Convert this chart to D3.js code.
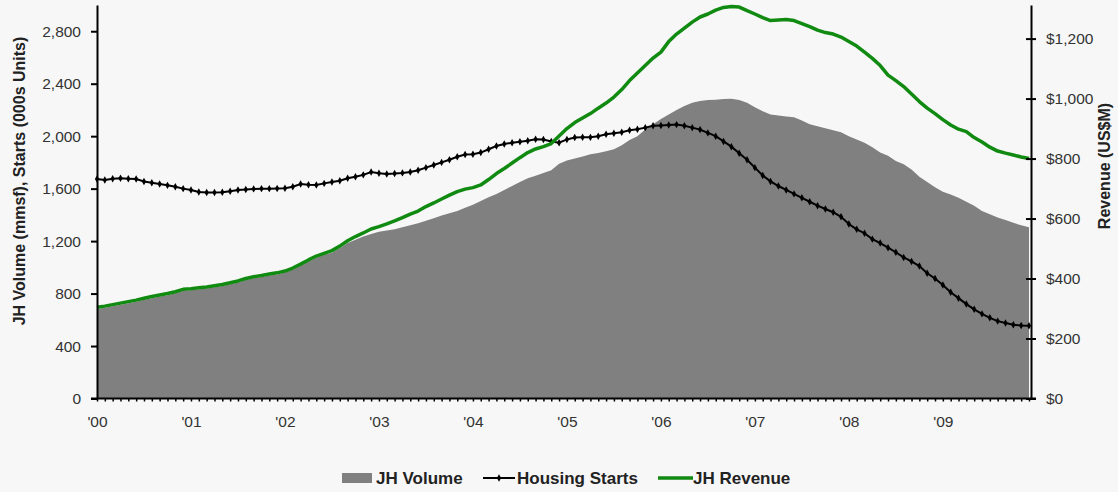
<!DOCTYPE html>
<meta charset="utf-8">
<title>JH Volume, Housing Starts and JH Revenue</title>
<style>
    body { margin: 0; background: #f7f7f7; }
    text { font-family: Arial, "Liberation Sans", sans-serif; fill: #333; }
    .axis path, .axis line { stroke: #000; }
    .axis text { font-size: 15.5px; fill: #333; }
    .title { font-size: 16px; font-weight: bold; fill: #222; }
    .legend text { font-size: 17px; font-weight: bold; fill: #222; }
</style>
<body>
<script src="https://d3js.org/d3.v7.min.js"></script>
<script>
    // year tick labels, one per January
    const years = ["'00", "'01", "'02", "'03", "'04", "'05", "'06", "'07", "'08", "'09"];

    // monthly categories 2000-01 .. 2009-12
    const months = [];
    years.forEach((y, i) => {
        for (let m = 1; m <= 12; m++) months.push((2000 + i) + '-' + m);
    });

    // JH Volume (mmsf), left axis
    const jhVolume = [
        683, 692, 704, 715, 727, 738, 752, 765, 777, 788, 802, 820,
        825, 832, 839, 848, 857, 871, 884, 903, 916, 926, 937, 946,
        960, 983, 1012, 1044, 1074, 1095, 1112, 1145, 1185, 1210, 1235, 1255,
        1272, 1280, 1290, 1305, 1320, 1336, 1355, 1375, 1395, 1412, 1430, 1455,
        1478, 1505, 1535, 1560, 1590, 1620, 1650, 1680, 1698, 1720, 1740, 1790,
        1815, 1830, 1845, 1862, 1872, 1885, 1900, 1930, 1970, 2000, 2050, 2090,
        2130, 2165, 2200, 2230, 2255, 2268, 2276, 2278, 2283, 2286, 2275, 2255,
        2220, 2190, 2165, 2158, 2150, 2145, 2120, 2090, 2075, 2060, 2045, 2030,
        2000, 1975, 1950, 1915, 1875, 1850, 1810, 1785, 1745, 1690, 1650, 1610,
        1577, 1555, 1530, 1500, 1470, 1430, 1405, 1380, 1360, 1340, 1320, 1305
    ];

    // Housing starts (000s units), left axis
    const housingStarts = [
        1673, 1666, 1675, 1679, 1676, 1673, 1655, 1645, 1636, 1625, 1615, 1600,
        1590, 1575, 1570, 1570, 1572, 1580, 1590, 1594, 1598, 1600, 1600, 1601,
        1603, 1615, 1635, 1630, 1628, 1640, 1650, 1660, 1679, 1690, 1705, 1727,
        1718, 1712, 1715, 1720, 1727, 1740, 1760, 1780, 1800, 1820, 1843, 1860,
        1862, 1875, 1900, 1925, 1940, 1950, 1958, 1965, 1976, 1975, 1960, 1950,
        1975, 1990, 1992, 1991, 2000, 2015, 2022, 2030, 2045, 2052, 2065, 2080,
        2082, 2085, 2088, 2080, 2065, 2050, 2025, 2000, 1960, 1920, 1870, 1820,
        1760, 1700, 1655, 1620, 1590, 1560, 1530, 1500, 1470, 1445, 1420, 1385,
        1330, 1290, 1260, 1215, 1185, 1150, 1115, 1075, 1045, 1010, 955, 915,
        865, 810, 765, 720, 680, 645, 615, 590, 575, 562, 557, 555
    ];

    // JH Revenue (US$M), right axis
    const jhRevenue = [
        304, 308, 313, 318, 323, 328, 334, 340, 345, 350, 356, 364,
        366, 369, 372, 376, 380, 386, 392, 400, 406, 410, 415, 419,
        425, 435, 448, 462, 475, 484, 493, 508, 526, 540, 552, 565,
        573, 582, 592, 603, 615, 625, 640, 652, 665, 678, 690, 698,
        703, 712, 730, 750, 767, 785, 803, 820, 832, 840, 850, 875,
        900, 920, 935, 950, 968, 985, 1005, 1030, 1060, 1085, 1110, 1135,
        1155, 1190, 1215, 1235, 1255, 1272, 1282, 1295, 1304, 1307, 1305, 1293,
        1282, 1270, 1260, 1262, 1264, 1260, 1250, 1240, 1228, 1220, 1215, 1205,
        1190, 1175, 1155, 1134, 1110, 1078, 1060, 1040, 1015, 990, 968, 950,
        930, 912, 898, 890, 870, 855, 838, 825, 818, 812, 805, 800
    ];

    const leftTicks = [0, 400, 800, 1200, 1600, 2000, 2400, 2800];
    const rightTicks = [0, 200, 400, 600, 800, 1000, 1200];

    const width = 1118, height = 492;
    const plotLeft = 97, plotRight = 1031, plotBottom = 398.5, plotTop = 5;

    const svg = d3.select('body').append('svg')
        .attr('width', width)
        .attr('height', height)
        .style('background', '#f7f7f7')
        .style('display', 'block');

    const x = d3.scalePoint().domain(months).range([plotLeft, 1029]);
    const yL = d3.scaleLinear().domain([0, 3000]).range([plotBottom, plotTop]);
    const yR = d3.scaleLinear().domain([0, 1312]).range([plotBottom, plotTop]);

    // volume area
    const area = d3.area()
        .x((d, i) => x(months[i]))
        .y0(yL(0))
        .y1(d => yL(d));

    svg.append('path')
        .datum(jhVolume)
        .attr('d', area)
        .attr('fill', '#808080');

    // housing starts line + markers
    const startsLine = d3.line()
        .x((d, i) => x(months[i]))
        .y(d => yL(d));

    svg.append('path')
        .datum(housingStarts)
        .attr('d', startsLine)
        .attr('fill', 'none')
        .attr('stroke', '#000')
        .attr('stroke-width', 2);

    svg.append('g')
        .selectAll('path')
        .data(housingStarts)
        .enter().append('path')
        .attr('d', d3.symbol().type(d3.symbolDiamond).size(16))
        .attr('transform', (d, i) => `translate(${x(months[i])},${yL(d)})`)
        .attr('fill', '#000');

    // revenue line
    const revLine = d3.line()
        .x((d, i) => x(months[i]))
        .y(d => yR(d));

    svg.append('path')
        .datum(jhRevenue)
        .attr('d', revLine)
        .attr('fill', 'none')
        .attr('stroke', '#108a10')
        .attr('stroke-width', 3.5)
        .attr('stroke-linejoin', 'round');

    // axes
    const fmt = d3.format(',');

    const gL = svg.append('g')
        .attr('class', 'axis')
        .attr('transform', `translate(${plotLeft},0)`)
        .call(d3.axisLeft(yL).tickValues(leftTicks).tickSize(6).tickSizeOuter(0).tickPadding(10).tickFormat(fmt));
    gL.select('.domain').attr('stroke-width', 2);
    gL.selectAll('.tick line').attr('stroke-width', 2);

    const gR = svg.append('g')
        .attr('class', 'axis')
        .attr('transform', `translate(${plotRight},0)`)
        .call(d3.axisRight(yR).tickValues(rightTicks).tickSize(5).tickSizeOuter(0).tickPadding(10)
            .tickFormat(d => '$' + fmt(d)));
    gR.select('.domain').attr('stroke-width', 2);
    gR.selectAll('.tick line').attr('x1', -5).attr('stroke-width', 2);

    const gB = svg.append('g')
        .attr('class', 'axis')
        .attr('transform', `translate(0,${plotBottom})`)
        .call(d3.axisBottom(x).tickSize(3).tickPadding(14)
            .tickFormat((d, i) => i % 12 === 0 ? years[i / 12] : ''));
    gB.select('.domain').remove();
    gB.selectAll('.tick line').attr('stroke-width', 1.5);
    svg.append('line')
        .attr('x1', plotLeft - 6).attr('x2', plotRight + 5)
        .attr('y1', plotBottom).attr('y2', plotBottom)
        .attr('stroke', '#000')
        .attr('stroke-width', 2);

    // axis titles
    svg.append('text')
        .attr('class', 'title')
        .attr('transform', 'translate(25,181) rotate(-90)')
        .attr('text-anchor', 'middle')
        .text('JH Volume (mmsf),  Starts (000s Units)');

    svg.append('text')
        .attr('class', 'title')
        .attr('transform', 'translate(1110,166) rotate(-90)')
        .attr('text-anchor', 'middle')
        .text('Revenue (US$M)');

    // legend
    const lg = svg.append('g').attr('class', 'legend');
    lg.append('rect')
        .attr('x', 342).attr('y', 473).attr('width', 30).attr('height', 10)
        .attr('fill', '#808080');
    lg.append('text').attr('x', 376).attr('y', 484).text('JH Volume');

    lg.append('line')
        .attr('x1', 483).attr('x2', 515).attr('y1', 478).attr('y2', 478)
        .attr('stroke', '#000').attr('stroke-width', 2);
    lg.append('path')
        .attr('d', d3.symbol().type(d3.symbolDiamond).size(16))
        .attr('transform', 'translate(499,478)')
        .attr('fill', '#000');
    lg.append('text').attr('x', 517).attr('y', 484).text('Housing Starts');

    lg.append('line')
        .attr('x1', 658).attr('x2', 693).attr('y1', 478).attr('y2', 478)
        .attr('stroke', '#108a10').attr('stroke-width', 3.5);
    lg.append('text').attr('x', 693).attr('y', 484).text('JH Revenue');
</script>
</body>
